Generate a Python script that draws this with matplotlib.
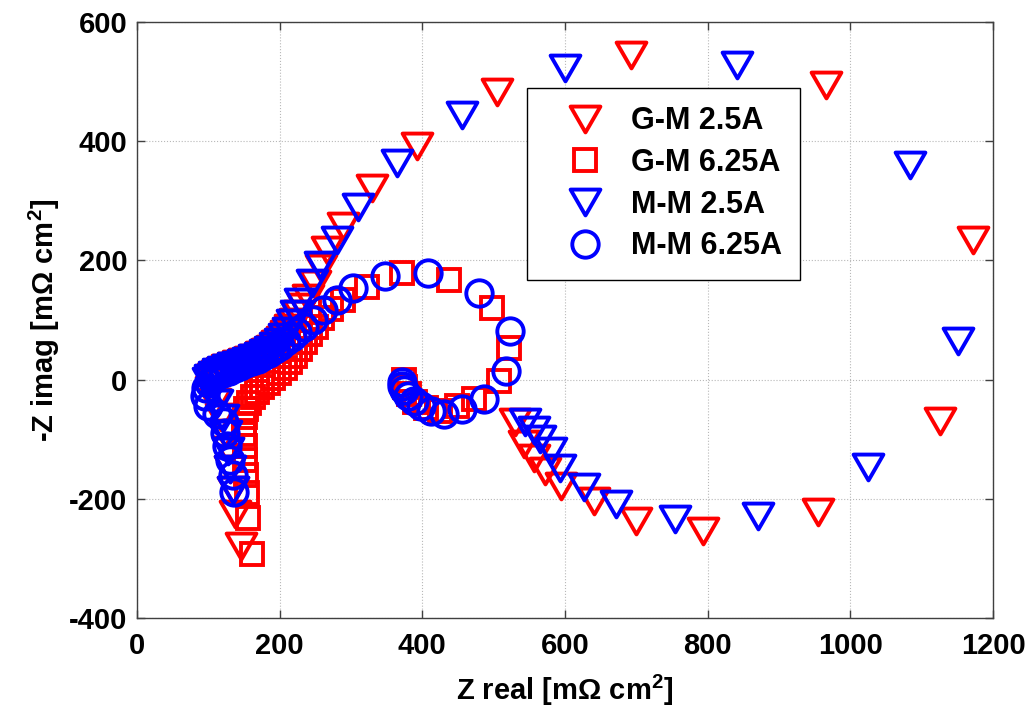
import numpy as np
import matplotlib
matplotlib.use('Agg')
import matplotlib.pyplot as plt
from matplotlib.path import Path
from matplotlib.markers import MarkerStyle

plt.rcParams['font.family'] = 'Liberation Sans'
plt.rcParams['font.weight'] = 'bold'
plt.rcParams['axes.unicode_minus'] = False
plt.rcParams['mathtext.fontset'] = 'custom'
plt.rcParams['mathtext.rm'] = 'Liberation Sans:bold'
plt.rcParams['mathtext.it'] = 'Liberation Sans:bold'
plt.rcParams['mathtext.bf'] = 'Liberation Sans:bold'

# G-M 2.5A  (red triangles)
gm25_x = [146, 138, 134, 131, 128, 124, 118, 110, 104, 102, 106, 112, 119, 126, 134, 142,
          150, 158, 166, 174, 182, 189, 196, 203, 209, 215, 221, 227, 233, 240, 250, 258,
          266, 289, 329, 393, 505, 692, 966, 1172, 1126, 955, 794, 700, 640, 594, 572,
          556, 542, 530]
gm25_y = [-279, -225, -185, -150, -118, -90, -62, -38, -18, -4, 4, 10, 15, 19, 23, 26,
          29, 33, 37, 41, 46, 52, 59, 67, 76, 86, 97, 110, 122, 137, 160, 188,
          218, 257, 321, 392, 482, 544, 494, 234, -70, -223, -254, -237, -204, -179, -154,
          -131, -108, -72]

# G-M 6.25A (red squares)
gm625_x = [161, 156, 154, 153, 152, 151, 150, 150, 151, 153, 157, 162, 168, 175, 183, 191,
           199, 207, 215, 222, 229, 236, 243, 251, 260, 272, 289, 322, 371, 437, 497, 521,
           507, 472, 448, 425, 405, 390, 381, 376, 374]
gm625_y = [-292, -233, -190, -160, -135, -112, -92, -75, -62, -50, -39, -30, -21, -13, -5, 3,
           11, 20, 30, 40, 51, 63, 76, 89, 103, 118, 134, 156, 179, 167, 120, 53,
           -3, -33, -45, -52, -48, -38, -25, -12, 0]

# M-M 2.5A  (blue triangles)
mm25_x = [134, 131, 128, 125, 120, 112, 104, 100, 103, 108, 114, 120, 127, 134, 141, 148,
          156, 164, 172, 180, 187, 194, 200, 206, 212, 218, 223, 228, 245, 257, 280, 310,
          364, 455, 600, 841, 1084, 1151, 1025, 870, 754, 671, 627, 593, 580, 565, 556, 544]
mm25_y = [-185, -150, -120, -92, -65, -40, -20, -3, 3, 8, 12, 16, 19, 22, 25, 28,
          32, 36, 40, 45, 50, 56, 63, 72, 82, 95, 110, 131, 162, 192, 234, 290,
          363, 444, 522, 527, 360, 64, -146, -229, -234, -209, -180, -148, -120, -100, -84, -71]

# M-M 6.25A (blue circles)
mm625_x = [136, 134, 130, 126, 124, 122, 112, 100, 95, 97, 101, 107, 114, 121, 129, 137,
           145, 153, 161, 169, 177, 185, 193, 201, 209, 217, 225, 234, 247, 261, 280, 303,
           348, 408, 479, 523, 517, 486, 455, 430, 412, 398, 388, 380, 375, 372, 371]
mm625_y = [-188, -160, -135, -112, -90, -72, -58, -45, -28, -14, -5, 2, 7, 11, 15, 19,
           23, 27, 31, 35, 40, 45, 51, 57, 64, 71, 79, 88, 100, 117, 134, 153,
           173, 178, 145, 81, 14, -32, -50, -57, -52, -45, -36, -27, -18, -10, -4]

labels = ['G-M 2.5A', 'G-M 6.25A', 'M-M 2.5A', 'M-M 6.25A']

tri_verts = [(-1, 0.866), (1, 0.866), (0, -0.866), (-1, 0.866)]
tri = MarkerStyle(Path(tri_verts, closed=True), joinstyle='miter')

fig = plt.figure(figsize=(10.33, 7.14), dpi=100)
ax = fig.add_axes([0.1326, 0.1345, 0.8287, 0.8347])

ew = 2.8
ax.plot(gm25_x, gm25_y, ls='none', marker=tri, ms=21.5, mfc='none', mec='#ff0000', mew=ew,
        label=labels[0])
ax.plot(gm625_x, gm625_y, ls='none', marker='s', ms=16.5, mfc='none', mec='#ff0000', mew=ew,
        label=labels[1])
ax.plot(mm25_x, mm25_y, ls='none', marker=tri, ms=21.5, mfc='none', mec='#0000ff', mew=ew,
        label=labels[2])
ax.plot(mm625_x, mm625_y, ls='none', marker='o', ms=19, mfc='none', mec='#0000ff', mew=ew,
        label=labels[3])

ax.set_xlim(0, 1200)
ax.set_ylim(-400, 600)
ax.set_xticks(np.arange(0, 1201, 200))
ax.set_yticks(np.arange(-400, 601, 200))
ax.grid(True, ls=':', color='#b8b8b8', lw=0.8)
ax.set_axisbelow(True)
ax.tick_params(direction='in', length=6, width=1, top=True, right=True,
               labelsize=21, color='#404040')
ax.tick_params(axis='x', pad=10)
ax.tick_params(axis='y', pad=7)
for sp in ax.spines.values():
    sp.set_color('#404040')
    sp.set_linewidth(1)

ax.set_xlabel('Z real [m\u03a9 cm$^{2}$]', fontsize=21, fontweight='bold', labelpad=9)
ax.set_ylabel('-Z imag [m\u03a9 cm$^{2}$]', fontsize=21, fontweight='bold', labelpad=5)

leg = ax.legend(loc='upper left', bbox_to_anchor=(0.4556, 0.889), fontsize=22, numpoints=1,
                fancybox=False, edgecolor='black', framealpha=1, borderpad=0.6,
                handlelength=2.6, handletextpad=0.2, labelspacing=0.38, borderaxespad=0)
leg.get_frame().set_linewidth(1)

fig.savefig('out.png', dpi=100)
